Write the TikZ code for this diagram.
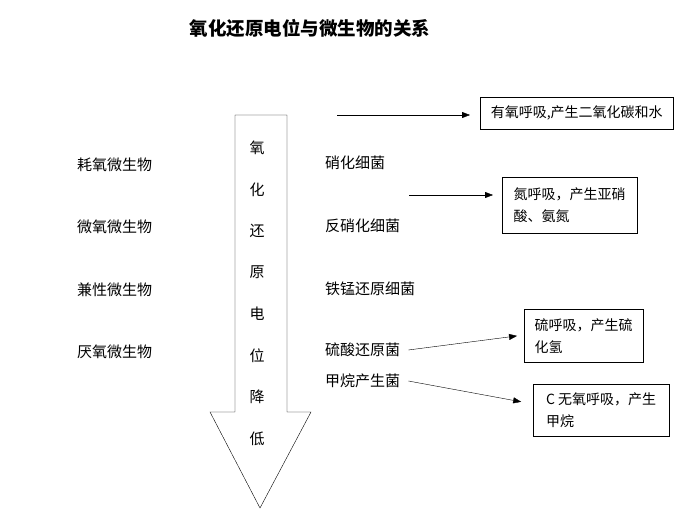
\documentclass[tikz,border=0pt]{standalone}
\usepackage{fontspec}
\setmainfont{Noto Sans CJK SC}
\usetikzlibrary{arrows.meta}

\begin{document}
\begin{tikzpicture}[x=1pt, y=-1pt,
    every node/.style = {inner sep=0pt, font=\fontsize{15}{22}\selectfont},
    lbl/.style = {anchor=west},
    box/.style = {draw, anchor=north west, align=left, inner xsep=9pt,
      font=\fontsize{14}{22}\selectfont},
    arr/.style = {-{Triangle[length=8pt, width=6pt]}}]
    \useasboundingbox (0,0) rectangle (688,510);
    % title
    \node[font=\fontsize{18.5}{22}\selectfont\bfseries] (title) at (310,28) {氧化还原电位与微生物的关系};
    % big arrow
    \draw[thin] (235,115) -- (287,115) -- (287,412) -- (311,412) -- (260,508)
      -- (210,412) -- (235,412) -- cycle;
    \foreach \c [count=\i from 0] in {氧,化,还,原,电,位,降,低}
      \node (v\i) at (257,{148+41.5*\i}) {\c};
    % microorganisms
    \node[lbl] (haoyang) at (77,165) {耗氧微生物};
    \node[lbl] (weiyang) at (77,227) {微氧微生物};
    \node[lbl] (jianxing) at (77,290) {兼性微生物};
    \node[lbl] (yanyang) at (77,352) {厌氧微生物};
    % bacteria
    \node[lbl] (xiaohua) at (325,163) {硝化细菌};
    \node[lbl] (fanxiao) at (325,226) {反硝化细菌};
    \node[lbl] (tiemeng) at (325,289) {铁锰还原细菌};
    \node[lbl] (liusuan) at (325,350) {硫酸还原菌};
    \node[lbl] (jiawan) at (325,381) {甲烷产生菌};
    % respiration boxes
    \node[box, minimum width=193pt, minimum height=32pt] (youyang) at (480,97)
      {有氧呼吸,产生二氧化碳和水};
    \node[box, minimum width=135pt, minimum height=56pt] (dan) at (502,177)
      {氮呼吸，产生亚硝\\酸、氨氮};
    \node[box, minimum width=119pt, minimum height=53pt] (liu) at (524,309)
      {硫呼吸，产生硫\\化氢};
    \node[box, minimum width=136pt, minimum height=52pt] (wuyang) at (533,384)
      {C 无氧呼吸，产生\\甲烷};
    % connectors
    \coordinate (s1) at (337,115);
    \coordinate (s2) at (409,195);
    \draw[arr, shorten >=10pt] (s1) -- (youyang.west |- s1);
    \draw[arr, shorten >=9pt] (s2) -- (dan.west |- s2);
    \draw[arr, shorten >=7pt] (liusuan.east) ++(8,0) -- (524,335);
    \draw[arr, shorten >=12pt] (jiawan.east) ++(8,0) -- (533,404);
  \end{tikzpicture}
\end{document}
